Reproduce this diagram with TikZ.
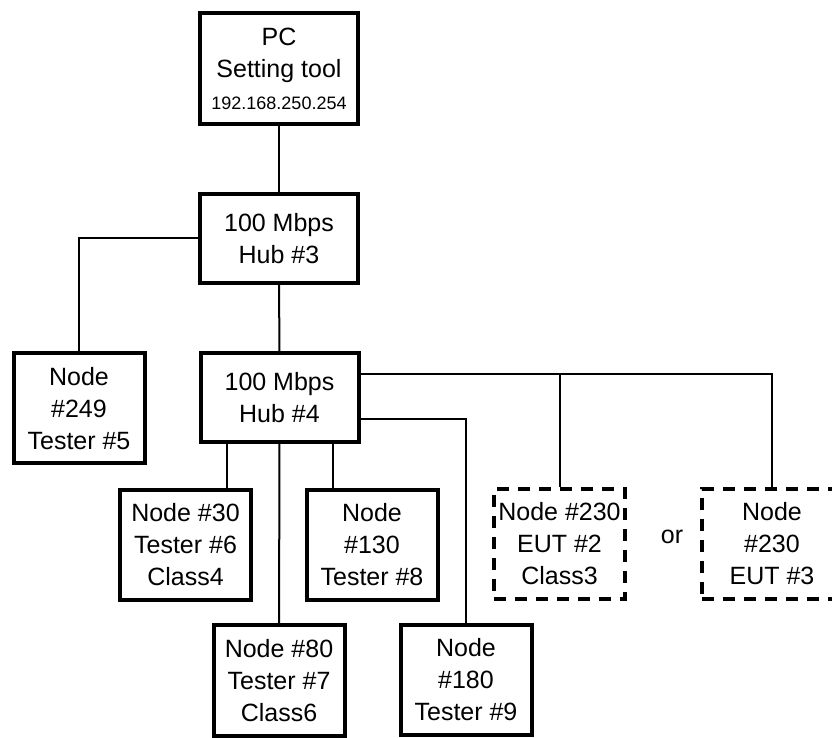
\documentclass[tikz,border=0pt]{standalone}
\usepackage{fontspec}
\setmainfont{Liberation Sans}
\usepackage{tikz}
\usetikzlibrary{calc}

\begin{document}
\begin{tikzpicture}[
  x=0.5pt, y=-0.5pt,
  font=\fontsize{12.5}{16}\selectfont,
  box/.style={draw, line width=2pt, align=center, inner sep=0pt, minimum width=65.5pt, minimum height=55pt},
  hub/.style={box, minimum width=79pt, minimum height=44.5pt},
  eut/.style={box, dash pattern=on 6pt off 4.5pt},
  link/.style={line width=1pt}
]
\useasboundingbox (0,0) rectangle (832,738);
\node[box, minimum width=79pt, minimum height=55.5pt] (pc) at (279,68.5)
  {PC\\Setting tool\\{\fontsize{9}{16}\selectfont 192.168.250.254}};
\node[hub] (hub3) at (279,238.5) {100 Mbps\\Hub \#3};
\node[box] (node249) at (79,408.5) {Node\\\#249\\Tester \#5};
\node[hub] (hub4) at (279.5,397.5) {100 Mbps\\Hub \#4};
\node[box] (node30) at (185.5,545) {Node \#30\\Tester \#6\\Class4};
\node[box] (node130) at (372,545) {Node\\\#130\\Tester \#8};
\node[box] (node80) at (279,680.5) {Node \#80\\Tester \#7\\Class6};
\node[box] (node180) at (466,680) {Node\\\#180\\Tester \#9};
\node[eut] (eut2) at (559.5,544) {Node \#230\\EUT \#2\\Class3};
\node[eut, minimum width=70pt] (eut3) at (772,544) {Node\\\#230\\EUT \#3};
\node (or) at (672,537) {or};
% links
\draw[link] (pc) -- (hub3);
\draw[link] (hub3.west) -| (node249.north);
\draw[link] (hub3) -- (hub4);
\draw[link] ([xshift=-26.5pt]hub4.south) -- ([xshift=-26.5pt]hub4.south |- node30.north);
\draw[link] ([xshift=26.5pt]hub4.south) -- ([xshift=26.5pt]hub4.south |- node130.north);
\draw[link] (hub4) -- (node80);
\draw[link] ([yshift=-10.75pt]hub4.east) -| (node180.north);
\coordinate (bus) at ([yshift=11.75pt]hub4.east);
\draw[link] (bus) -| (eut3.north);
\draw[link] (eut2.north) -- (eut2.north |- bus);
\end{tikzpicture}
\end{document}
